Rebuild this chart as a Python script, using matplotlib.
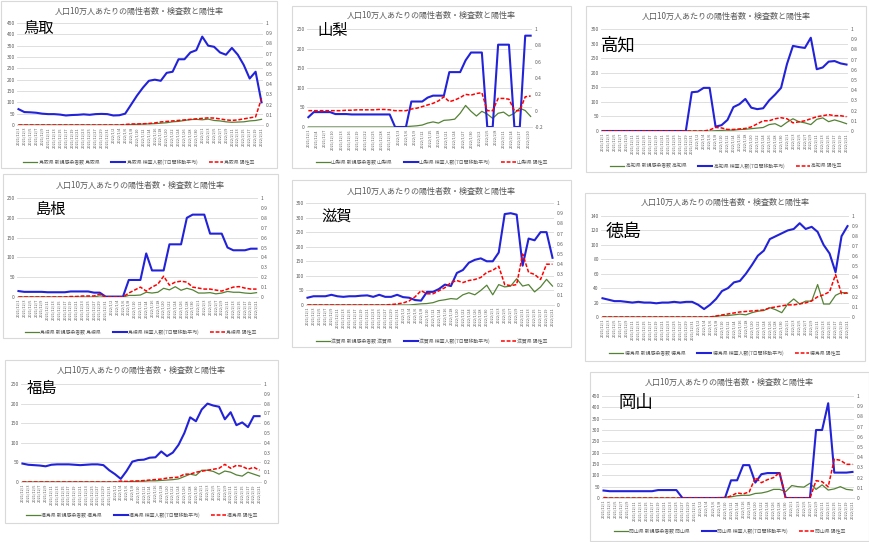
import matplotlib
matplotlib.use('Agg')
import matplotlib.pyplot as plt
from matplotlib.lines import Line2D
from matplotlib.patches import Rectangle
import numpy as np
import pandas as pd

plt.rcParams['font.family'] = ['Noto Sans CJK JP', 'DejaVu Sans']

# dates (one value read every second day, 2021/12/1 - 2022/2/21)
all_days = pd.date_range('2021-12-01', '2022-02-21', freq='D')
day_labels = [f'{d.year}/{d.month}/{d.day}' for d in all_days]
x_days = list(range(0, 83, 2))

title = '人口10万人あたりの陽性者数・検査数と陽性率'

# ---- data (per 100k people) ----
tottori_tests = [70, 57, 56, 54, 50, 48, 48, 46, 42, 44,
                 45, 47, 45, 48, 49, 48, 42, 43, 50, 90,
                 130, 165, 195, 200, 195, 230, 235, 290, 290, 320,
                 330, 390, 350, 345, 320, 310, 340, 310, 265, 205,
                 235, 100]
tottori_cases = [0, 0, 0, 0, 0, 0, 0, 0, 0, 0,
                 0, 0, 0, 0, 0, 0, 0, 0, 0, 2,
                 3, 4, 5, 6, 8, 10, 14, 16, 20, 24,
                 25, 23, 26, 20, 18, 14, 12, 13, 14, 18,
                 20, 25]
tottori_rate = [0, 0, 0, 0, 0, 0, 0, 0, 0, 0,
                0, 0, 0, 0, 0, 0, 0, 0, 0.005, 0.01,
                0.01, 0.012, 0.015, 0.02, 0.03, 0.035, 0.04, 0.045, 0.05, 0.055,
                0.06, 0.065, 0.07, 0.068, 0.06, 0.05, 0.045, 0.05, 0.06, 0.07,
                0.08, 0.26]

yamanashi_tests = [25, 38, 38, 38, 38, 33, 33, 33, 32, 32,
                   32, 32, 32, 32, 32, 32, 0, 0, 0, 65,
                   65, 65, 75, 80, 80, 80, 140, 140, 140, 170,
                   190, 190, 190, 0, 0, 210, 210, 210, 0, 0,
                   233, 233]
yamanashi_cases = [0, 0, 0, 0, 0, 0, 0, 0, 0, 0,
                   0, 0, 0, 0, 0, 0, 0, 0, 1, 2,
                   3, 5, 10, 13, 10, 17, 18, 20, 35, 55,
                   40, 28, 40, 33, 22, 35, 38, 28, 35, 48,
                   42, 27]
yamanashi_rate = [0, 0, 0, 0, 0, 0, 0, 0.005, 0.005, 0.01,
                  0.01, 0.01, 0.01, 0.015, 0.015, 0.01, 0, 0, 0, 0.02,
                  0.03, 0.05, 0.07, 0.09, 0.12, 0.17, 0.11, 0.13, 0.16, 0.2,
                  0.19, 0.21, 0.22, 0, 0, 0.15, 0.15, 0.14, 0, 0,
                  0.17, 0.18]

kochi_tests = [0, 0, 0, 0, 0, 0, 0, 0, 0, 0,
               0, 0, 0, 0, 0, 133, 135, 148, 148, 15,
               20, 38, 82, 92, 110, 80, 75, 78, 105, 125,
               148, 230, 292, 288, 285, 320, 212, 218, 238, 240,
               232, 228]
kochi_cases = [0, 0, 0, 0, 0, 0, 0, 0, 0, 0,
               0, 0, 0, 0, 0, 0, 0, 0, 0, 1,
               2, 3, 3, 5, 6, 8, 10, 12, 22, 25,
               15, 30, 42, 32, 28, 22, 40, 45, 32, 38,
               32, 25]
kochi_rate = [0, 0, 0, 0, 0, 0, 0, 0, 0, 0,
              0, 0, 0, 0, 0, 0, 0, 0, 0.01, 0.035,
              0.03, 0.015, 0.015, 0.02, 0.025, 0.04, 0.07, 0.1, 0.1, 0.12,
              0.13, 0.12, 0.08, 0.09, 0.1, 0.12, 0.14, 0.15, 0.16, 0.15,
              0.15, 0.14]

shimane_tests = [15, 13, 13, 13, 13, 12, 12, 12, 12, 14,
                 14, 14, 14, 11, 11, 1, 1, 1, 1, 43,
                 43, 43, 110, 67, 67, 67, 133, 133, 133, 200,
                 208, 208, 208, 160, 160, 160, 125, 118, 118, 118,
                 122, 122]
shimane_cases = [0, 0, 0, 0, 0, 0, 0, 0, 0, 0,
                 0, 0, 0, 0, 3, 1, 0, 0, 0, 4,
                 4, 5, 12, 10, 12, 22, 18, 26, 17, 22,
                 18, 10, 10, 11, 8, 10, 14, 12, 12, 10,
                 9, 11]
shimane_rate = [0, 0, 0, 0, 0, 0, 0, 0, 0, 0.005,
                0.005, 0.01, 0.01, 0.01, 0.03, 0, 0, 0, 0, 0.04,
                0.07, 0.1, 0.06, 0.1, 0.13, 0.21, 0.12, 0.15, 0.16, 0.15,
                0.1, 0.09, 0.08, 0.08, 0.07, 0.06, 0.08, 0.1, 0.105, 0.09,
                0.08, 0.08]

shiga_tests = [25, 30, 30, 30, 35, 30, 28, 30, 30, 32,
               33, 28, 35, 28, 28, 35, 27, 25, 17, 15,
               45, 45, 55, 70, 65, 110, 120, 145, 155, 160,
               150, 150, 180, 312, 315, 310, 135, 228, 222, 250,
               250, 162]
shiga_cases = [0, 0, 0, 0, 0, 0, 0, 0, 0, 0,
               0, 0, 0, 0, 0, 0, 0, 0, 2, 4,
               5, 8, 15, 18, 22, 20, 35, 42, 35, 50,
               68, 35, 70, 62, 65, 90, 65, 70, 45, 62,
               88, 65]
shiga_rate = [0, 0, 0, 0, 0, 0, 0, 0, 0, 0,
              0, 0, 0, 0, 0.005, 0.01, 0.02, 0.04, 0.08, 0.14,
              0.11, 0.11, 0.14, 0.17, 0.22, 0.24, 0.22, 0.24, 0.25, 0.27,
              0.32, 0.34, 0.38, 0.2, 0.19, 0.2, 0.5, 0.32, 0.3, 0.25,
              0.4, 0.4]

tokushima_tests = [26, 24, 22, 22, 21, 20, 21, 20, 20, 19,
                   20, 20, 21, 20, 21, 21, 17, 11, 17, 25,
                   36, 40, 48, 50, 60, 72, 85, 92, 108, 112,
                   116, 120, 122, 130, 122, 125, 118, 100, 88, 62,
                   112, 126]
tokushima_cases = [0, 0, 0, 0, 0, 0, 0, 0, 0, 0,
                   0, 0, 0, 0, 0, 0, 0, 0, 0, 1,
                   2, 2, 3, 4, 3, 6, 8, 9, 13, 10,
                   6, 18, 25, 18, 22, 22, 45, 18, 18, 30,
                   34, 33]
tokushima_rate = [0, 0, 0, 0, 0, 0, 0, 0, 0, 0,
                  0, 0, 0, 0, 0, 0, 0, 0, 0, 0.01,
                  0.02, 0.03, 0.04, 0.05, 0.055, 0.06, 0.065, 0.07, 0.09, 0.1,
                  0.11, 0.12, 0.12, 0.13, 0.14, 0.16, 0.2, 0.22, 0.25, 0.42,
                  0.23, 0.24]

fukushima_tests = [47, 44, 43, 42, 40, 44, 45, 45, 45, 44,
                   43, 44, 45, 45, 43, 30, 20, 8, 28, 52,
                   56, 57, 62, 63, 78, 66, 75, 95, 125, 165,
                   155, 185, 200, 195, 192, 160, 178, 145, 152, 140,
                   168, 168]
fukushima_cases = [0, 0, 0, 0, 0, 0, 0, 0, 0, 0,
                   0, 0, 0, 0, 0, 0, 0, 0, 1, 1,
                   2, 2, 3, 3, 4, 5, 6, 8, 14, 20,
                   17, 30, 30, 27, 20, 28, 25, 18, 15, 25,
                   20, 15]
fukushima_rate = [0, 0, 0, 0, 0, 0, 0, 0, 0, 0,
                  0, 0, 0, 0, 0, 0, 0, 0.01, 0.005, 0.01,
                  0.01, 0.015, 0.02, 0.025, 0.03, 0.04, 0.045, 0.05, 0.08, 0.08,
                  0.1, 0.11, 0.12, 0.13, 0.14, 0.18, 0.14, 0.17, 0.16, 0.13,
                  0.15, 0.12]

okayama_tests = [33, 30, 30, 30, 30, 30, 30, 30, 30, 35,
                 35, 35, 35, 0, 0, 0, 0, 0, 0, 0,
                 0, 78, 78, 145, 145, 68, 105, 110, 110, 110,
                 0, 0, 0, 0, 0, 300, 300, 418, 112, 112,
                 112, 115]
okayama_cases = [0, 0, 0, 0, 0, 0, 0, 0, 0, 0,
                 0, 0, 0, 0, 0, 0, 0, 0, 1, 2,
                 3, 5, 10, 12, 12, 20, 22, 28, 38, 38,
                 28, 55, 50, 48, 65, 38, 58, 35, 40, 50,
                 38, 35]
okayama_rate = [0.005, 0, 0, 0, 0, 0, 0, 0, 0, 0,
                0, 0, 0, 0, 0, 0, 0, 0, 0, 0,
                0, 0.02, 0.05, 0.04, 0.06, 0.2, 0.15, 0.18, 0.2, 0.25,
                0, 0, 0, 0, 0, 0.17, 0.16, 0.11, 0.38, 0.37,
                0.33, 0.33]

# ---- layout, in pixels of the 870x542 picture ----
panels = [
    dict(pref='鳥取', cases=tottori_cases, tests=tottori_tests, rate=tottori_rate,
         box=(1, 1, 277, 168), plot=(17, 23, 263, 125), title_y=11,
         name=(23, 28, 11), leg_y=162, ymax=450, ystep=50, rmin=0, rstep=0.1, xstep=2),
    dict(pref='山梨', cases=yamanashi_cases, tests=yamanashi_tests, rate=yamanashi_rate,
         box=(292, 6, 571, 168), plot=(307, 29, 532, 127), title_y=15,
         name=(317, 30, 11), leg_y=162, ymax=250, ystep=50, rmin=-0.2, rstep=0.2, xstep=3),
    dict(pref='高知', cases=kochi_cases, tests=kochi_tests, rate=kochi_rate,
         box=(586, 6, 866, 172), plot=(601, 29, 848, 131), title_y=16,
         name=(601, 46, 12.5), leg_y=166, ymax=350, ystep=50, rmin=0, rstep=0.1, xstep=2),
    dict(pref='島根', cases=shimane_cases, tests=shimane_tests, rate=shimane_rate,
         box=(3, 174, 278, 338), plot=(17, 198, 258, 297), title_y=185,
         name=(36, 209, 11), leg_y=332, ymax=250, ystep=50, rmin=0, rstep=0.1, xstep=2),
    dict(pref='滋賀', cases=shiga_cases, tests=shiga_tests, rate=shiga_rate,
         box=(292, 180, 571, 347), plot=(306, 203, 554, 305), title_y=191,
         name=(321, 216, 11), leg_y=341, ymax=350, ystep=50, rmin=0, rstep=0.1, xstep=2),
    dict(pref='徳島', cases=tokushima_cases, tests=tokushima_tests, rate=tokushima_rate,
         box=(585, 193, 865, 361), plot=(601, 216, 849, 317), title_y=202,
         name=(606, 232, 13), leg_y=353, ymax=140, ystep=20, rmin=0, rstep=0.1, xstep=2),
    dict(pref='福島', cases=fukushima_cases, tests=fukushima_tests, rate=fukushima_rate,
         box=(5, 360, 278, 523), plot=(21, 384, 261, 482), title_y=370,
         name=(27, 388, 11), leg_y=515, ymax=250, ystep=50, rmin=0, rstep=0.1, xstep=2),
    dict(pref='岡山', cases=okayama_cases, tests=okayama_tests, rate=okayama_rate,
         box=(590, 372, 869, 541), plot=(602, 396, 854, 498), title_y=382,
         name=(619, 403, 12.5), leg_y=531, ymax=450, ystep=50, rmin=0, rstep=0.1, xstep=2),
]

W, H = 870, 542
GREEN = '#548235'
BLUE = '#2222d8'
RED = '#ff0000'
GREY = '#595959'
GRID = '#d9d9d9'

fig = plt.figure(figsize=(8.7, 5.42), dpi=100)

for p in panels:
    x0, y0, x1, y1 = p['box']
    fig.add_artist(Rectangle((x0 / W, 1 - y1 / H), (x1 - x0) / W, (y1 - y0) / H,
                             transform=fig.transFigure, fill=False, ec=GRID, lw=0.8))
    l, t, r, b = p['plot']
    ax = fig.add_axes([l / W, 1 - b / H, (r - l) / W, (b - t) / H])
    ax.plot(x_days, p['cases'], color=GREEN, lw=0.9)
    ax.plot(x_days, p['tests'], color=BLUE, lw=1.5)
    ax.set_xlim(-0.5, 82.5)
    ax.set_ylim(0, p['ymax'])
    ax.set_yticks(np.arange(0, p['ymax'] + 1, p['ystep']))
    ax.grid(axis='y', color=GRID, lw=0.6)
    ax.set_axisbelow(True)
    for s in ['left', 'right', 'top']:
        ax.spines[s].set_visible(False)
    ax.spines['bottom'].set_color(GRID)
    ax.spines['bottom'].set_linewidth(0.6)
    ticks = list(range(0, 83, p['xstep']))
    ax.set_xticks(ticks)
    ax.set_xticklabels([day_labels[i] for i in ticks], rotation=90, fontsize=2.8, color=GREY)
    ax.tick_params(axis='both', length=0, pad=1.5)
    ax.tick_params(axis='y', labelsize=3.5, labelcolor=GREY)

    ax2 = ax.twinx()
    ax2.plot(x_days, p['rate'], color=RED, lw=1.1, ls=(0, (2.5, 1.2)))
    ax2.set_ylim(p['rmin'], 1)
    rt = np.round(np.arange(p['rmin'], 1.0001, p['rstep']), 2)
    ax2.set_yticks(rt)
    ax2.set_yticklabels([f'{v:g}' if abs(v) > 1e-9 else '0' for v in rt])
    ax2.tick_params(axis='y', length=0, pad=2, labelsize=3.5, labelcolor=GREY)
    for s in ax2.spines.values():
        s.set_visible(False)

    cx = (x0 + x1) / 2
    fig.text(cx / W, 1 - p['title_y'] / H, title, ha='center', va='center',
             fontsize=5.8, color=GREY)
    nx, ny, ns = p['name']
    fig.text(nx / W, 1 - ny / H, p['pref'], ha='left', va='center', fontsize=ns, color='black')

    pref = p['pref'] + '県'
    handles = [Line2D([], [], color=GREEN, lw=0.9),
               Line2D([], [], color=BLUE, lw=1.5),
               Line2D([], [], color=RED, lw=1.1, ls=(0, (2.5, 1.2)))]
    labels = [f'{pref} 新規感染者数 {pref}', f'{pref} 検査人数(7日間移動平均)', f'{pref} 陽性率']
    fig.legend(handles, labels, loc='center', bbox_to_anchor=(cx / W, 1 - p['leg_y'] / H),
               ncol=3, frameon=False, prop={'size': 3.5}, labelcolor=GREY,
               handlelength=2.9, handletextpad=0.3, columnspacing=2.4, borderpad=0)

fig.savefig('out.png', dpi=100, facecolor='white')
